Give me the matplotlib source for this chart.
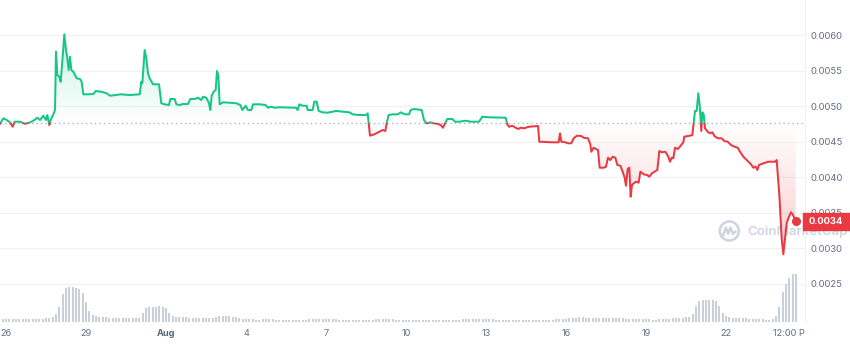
import numpy as np
import pandas as pd
import matplotlib
matplotlib.use("Agg")
import matplotlib.pyplot as plt
import matplotlib.dates as mdates
from matplotlib.patches import Rectangle, Circle
from matplotlib.path import Path
from matplotlib.colors import to_rgb
from matplotlib.transforms import Bbox, TransformedBbox, blended_transform_factory
from matplotlib.lines import Line2D

plt.rcParams['font.family'] = ['Inter', 'DejaVu Sans']

# ---------------- data ----------------
start = pd.Timestamp('2023-07-26 00:00')

# hours after Jul 26 00:00
price_hours = [
    -5.4, -2.4, 0.6, 3.6, 6.0, 7.8, 12.6, 17.1, 21.6, 24.3,
    28.2, 30.6, 33.6, 36.0, 37.2, 39.0, 40.2, 42.6, 44.1, 45.0,
    46.2, 48.0, 49.2, 51.0, 52.5, 54.0, 55.2, 56.4, 57.6, 58.8,
    60.6, 63.6, 66.6, 68.1, 69.6, 74.1, 78.6, 80.7, 86.1, 90.6,
    93.6, 99.6, 102.6, 111.6, 120.3,
    121.8, 122.7, 124.8, 126.3, 127.8, 129.3, 132.3, 137.7, 139.8, 142.8,
    146.7, 147.9, 151.8, 153.3, 156.3, 159.3, 163.8, 165.9, 169.8, 172.8,
    175.8, 177.3, 180.3, 182.7, 183.9, 185.1, 186.9, 188.7, 189.9, 191.1,
    192.3, 195.3, 201.3, 207.3, 210.9, 212.7, 215.7, 217.8, 220.8, 222.3,
    228.3, 233.7, 235.8,
    238.5, 241.5, 246.0, 261.0, 262.5, 264.0, 267.0, 270.6, 271.5, 276.0,
    277.5, 279.6, 281.4, 285.0, 289.5, 297.0, 303.0, 309.0, 312.0, 318.0,
    324.0, 325.5, 326.4, 327.6, 331.5, 336.0, 339.0, 341.4, 342.6, 344.4,
    348.0, 352.5, 355.5,
    356.7, 359.7, 362.7, 364.2, 367.2, 374.1, 376.2, 378.3, 382.2, 385.2,
    388.2, 391.2, 393.3, 395.1, 397.2, 401.7, 404.1, 407.7, 413.7, 418.2,
    425.7, 428.7, 434.7, 449.7, 451.2, 452.7, 455.7, 458.7, 461.1, 463.2,
    466.2, 470.7,
    478.8, 480.0, 491.4, 497.4, 498.6, 499.8, 503.4, 505.8, 508.8, 510.9,
    513.9, 517.8, 519.9, 523.8, 525.9, 526.8, 528.9, 531.0, 532.8, 534.3,
    537.9, 540.0, 541.8, 543.9, 546.0, 548.4, 550.2, 552.9, 555.0, 556.8,
    558.0, 559.5, 561.0, 562.2, 563.4, 564.9, 567.0, 569.4, 570.9, 573.9,
    576.9, 579.0, 581.4, 583.8, 586.2, 588.0, 590.4, 593.4,
    596.1, 597.6, 599.1, 600.6, 602.1, 604.5, 606.6, 609.6, 610.5, 615.6,
    617.7, 618.9, 620.1, 621.6, 623.1, 624.3, 625.2, 625.8, 626.7, 627.9,
    629.1, 631.5, 633.6, 635.7, 638.1, 641.1, 644.1, 646.5, 649.5, 652.5,
    655.5, 658.5, 660.6, 663.6, 667.5, 670.5, 672.6, 674.7, 676.2, 677.7,
    681.6, 686.1, 692.1, 693.6, 695.1, 696.0, 696.9, 698.1, 699.6, 701.1,
    702.6, 704.1, 706.5, 708.0, 710.7,
]

price = [
    0.004750, 0.004827, 0.004803, 0.004770, 0.004708, 0.004779, 0.004779, 0.004750, 0.004770, 0.004789,
    0.004835, 0.004803, 0.004863, 0.004803, 0.004873, 0.004732, 0.004803, 0.004883, 0.004944, 0.005765,
    0.005437, 0.005413, 0.005342, 0.005694, 0.006010, 0.005789, 0.005672, 0.005507, 0.005694, 0.005507,
    0.005483, 0.005390, 0.005380, 0.005342, 0.005165, 0.005165, 0.005169, 0.005211, 0.005201, 0.005179,
    0.005145, 0.005155, 0.005165, 0.005155, 0.005165,
    0.005342, 0.005320, 0.005789, 0.005672, 0.005461, 0.005390, 0.005306, 0.005306, 0.005038, 0.005024,
    0.005014, 0.005099, 0.005099, 0.005024, 0.005014, 0.005028, 0.005028, 0.005099, 0.005099, 0.005117,
    0.005084, 0.005131, 0.005117, 0.005038, 0.004944, 0.005145, 0.005201, 0.005225, 0.005493, 0.005437,
    0.005024, 0.005052, 0.005046, 0.005038, 0.005014, 0.004944, 0.005004, 0.004944, 0.004944, 0.005024,
    0.005024, 0.005014, 0.004976,
    0.004990, 0.004976, 0.004982, 0.004976, 0.004944, 0.005024, 0.005004, 0.005004, 0.004944, 0.004944,
    0.005061, 0.005061, 0.004930, 0.004911, 0.004906, 0.004930, 0.004920, 0.004911, 0.004883, 0.004873,
    0.004873, 0.004897, 0.004756, 0.004582, 0.004601, 0.004638, 0.004662, 0.004648, 0.004756, 0.004873,
    0.004883, 0.004883, 0.004911,
    0.004897, 0.004883, 0.004883, 0.004944, 0.004958, 0.004944, 0.004803, 0.004756, 0.004770, 0.004756,
    0.004750, 0.004732, 0.004694, 0.004756, 0.004817, 0.004817, 0.004779, 0.004779, 0.004793, 0.004779,
    0.004779, 0.004849, 0.004841, 0.004835, 0.004742, 0.004708, 0.004722, 0.004694, 0.004676, 0.004694,
    0.004686, 0.004708,
    0.004718, 0.004497, 0.004489, 0.004489, 0.004616, 0.004497, 0.004489, 0.004475, 0.004475, 0.004545,
    0.004582, 0.004577, 0.004553, 0.004545, 0.004461, 0.004356, 0.004413, 0.004394, 0.004380, 0.004131,
    0.004131, 0.004145, 0.004272, 0.004239, 0.004286, 0.004272, 0.004169, 0.004159, 0.004075, 0.003990,
    0.003877, 0.004113, 0.004131, 0.003723, 0.003887, 0.003911, 0.003934, 0.003920, 0.004075, 0.004038,
    0.004028, 0.004004, 0.004052, 0.004075, 0.004099, 0.004366, 0.004348, 0.004356,
    0.004286, 0.004215, 0.004272, 0.004263, 0.004413, 0.004394, 0.004427, 0.004489, 0.004568, 0.004582,
    0.004592, 0.004756, 0.004930, 0.004930, 0.005179, 0.005014, 0.004779, 0.004648, 0.004911, 0.004883,
    0.004686, 0.004638, 0.004615, 0.004630, 0.004568, 0.004545, 0.004545, 0.004507, 0.004497, 0.004451,
    0.004427, 0.004413, 0.004356, 0.004286, 0.004225, 0.004179, 0.004131, 0.004145, 0.004099, 0.004169,
    0.004193, 0.004215, 0.004215, 0.004239, 0.003934, 0.003746, 0.003489, 0.003137, 0.002911, 0.003137,
    0.003348, 0.003418, 0.003503, 0.003474, 0.003380,
]

base_price = 0.004756          # dotted reference (opening) price

# volume bars, one every 3 hours from Jul 25 18:00 (relative height)
vol_start = pd.Timestamp('2023-07-25 18:00')
vol_step_hours = 3
volume = [
    3.5, 3.5, 3.5, 3.5, 3.5, 3.5, 3.5, 3.5,
    3.5, 3.5, 3.5, 3.5, 3.5, 3.5, 4, 4.5,
    5, 8, 15, 28, 34, 35, 35, 34,
    33, 29, 20, 11, 7, 6, 5.5, 5,
    5, 4.5, 4.5, 4.5, 4.5, 4.5, 4.5, 4,
    4, 4, 4.5, 9, 14, 15, 15, 15.5,
    16, 15.5, 14, 9, 6, 5.5, 5.5, 5,
    5, 4.5, 4.5, 4.5, 4, 4, 4, 4,
    4.5, 5.5, 6, 6, 6, 6, 5.5, 5,
    4, 3.5, 3, 3, 3, 2.5, 2.5, 3,
    3, 3, 3, 2.5, 2.5, 2, 2, 2,
    2, 2, 2.5, 2.5, 2.5, 3, 3, 3,
    3.5, 3.5, 3.5, 3.5, 3, 3, 2.5, 2.5,
    2, 2, 2, 2, 2, 2, 2.5, 2.5,
    2.5, 3, 3, 3, 3.5, 3, 3, 2.5,
    2.5, 2.5, 2, 2, 2, 2, 2, 2,
    2, 2, 2, 2, 2, 2, 2, 2,
    2, 2, 2.5, 3, 3.5, 3.5, 3.5, 3.5,
    3.5, 3.5, 3.5, 3, 3, 2.5, 2.5, 2,
    2, 2, 2, 2, 2, 2, 2, 2,
    2, 2.5, 2.5, 2.5, 2.5, 2.5, 2.5, 3,
    3, 3, 3.5, 4, 4.5, 4.5, 5, 5,
    4.5, 4.5, 4.5, 4, 4, 4.5, 4.5, 4,
    4, 4, 4, 4, 3.5, 3.5, 3.5, 3.5,
    3.5, 3, 3, 3, 2.5, 2.5, 3, 3,
    3.5, 3.5, 4, 4, 4.5, 4.5, 5, 5,
    8, 16, 21, 22, 22, 22, 22, 21,
    16, 9, 6, 5, 4.5, 4.5, 4, 4,
    4, 3.5, 3.5, 3, 3, 3, 2.5, 2.5,
    3, 6, 15, 30, 38, 44, 48, 48,
]

tick_dates = ['2023-07-26 00:00', '2023-07-29 00:00', '2023-08-01 00:00', '2023-08-04 00:00',
              '2023-08-07 00:00', '2023-08-10 00:00', '2023-08-13 00:00', '2023-08-16 00:00',
              '2023-08-19 00:00', '2023-08-22 00:00', '2023-08-24 12:00']
tick_labels = ['26', '29', 'Aug', '4', '7', '10', '13', '16', '19', '22', '12:00 PM']
price_ticks = [0.0025, 0.0030, 0.0035, 0.0040, 0.0045, 0.0050, 0.0055, 0.0060]

# ---------------- style ----------------
GREEN = '#16c784'
RED = '#ea3943'
GRID = '#eff2f5'
LABEL = '#616e85'
VOLC = '#c9d0dc'
WM = '#cfd5e0'

W, H = 850, 345
fig = plt.figure(figsize=(W / 100, H / 100), dpi=100)
rect = [0, 23 / H, 805 / W, 322 / H]
ax = fig.add_axes(rect, zorder=1)
axv = fig.add_axes(rect, zorder=2, sharex=ax)
axv.patch.set_alpha(0)

t = mdates.date2num((start + pd.to_timedelta(price_hours, unit='h')).values)
p = np.array(price)
x0 = mdates.date2num(np.datetime64(start - pd.Timedelta(hours=5.4)))
x1 = mdates.date2num(np.datetime64(start + pd.Timedelta(hours=719.1)))
ylo, yhi = 0.001958, 0.006493

# gradient fills clipped to the area between line and reference price
fb = ax.fill_between(t, p, base_price, facecolor='none', edgecolor='none')
clip_path = Path.make_compound_path(*fb.get_paths())
fb.remove()

n = 256
g = np.zeros((n, 1, 4))
g[..., :3] = to_rgb(GREEN)
g[:, 0, 3] = np.linspace(0.0, 0.24, n)
im_g = ax.imshow(g, extent=[x0, x1, base_price, p.max()], origin='lower',
                 aspect='auto', interpolation='bilinear', zorder=1.2)
im_g.set_clip_path(clip_path, ax.transData)

r = np.zeros((n, 1, 4))
r[..., :3] = to_rgb(RED)
r[:, 0, 3] = np.linspace(0.26, 0.0, n)
im_r = ax.imshow(r, extent=[x0, x1, p.min(), base_price], origin='lower',
                 aspect='auto', interpolation='bilinear', zorder=1.2)
im_r.set_clip_path(clip_path, ax.transData)

# dotted reference line
ax.axhline(base_price, color='#a3abbd', lw=0.9, ls=(0, (1, 2.6)), zorder=1.3)

# price line: green above reference, red below
lg, = ax.plot(t, p, color=GREEN, lw=1.45, solid_joinstyle='round', zorder=2)
lg.set_clip_path(Rectangle((x0, base_price), x1 - x0, 1.0, transform=ax.transData))
lr, = ax.plot(t, p, color=RED, lw=1.45, solid_joinstyle='round', zorder=2)
lr.set_clip_path(Rectangle((x0, 0.0), x1 - x0, base_price, transform=ax.transData))
ax.plot(t[-1], p[-1], 'o', color=RED, ms=5.5, zorder=3, clip_on=False)

ax.set_xlim(x0, x1)
ax.set_ylim(ylo, yhi)

# axes styling
ax.set_yticks(price_ticks, [f'{v:.4f}' for v in price_ticks])
ax.yaxis.tick_right()
ax.tick_params(axis='y', length=0, pad=4.3, labelsize=6.8, labelcolor=LABEL)
tick_nums = mdates.date2num(pd.to_datetime(tick_dates, format='%Y-%m-%d %H:%M').values)
ax.set_xticks(tick_nums, tick_labels)
ax.tick_params(axis='x', length=0, pad=5.4, labelsize=6.6, labelcolor=LABEL)
ax.grid(axis='y', color=GRID, lw=0.8)
ax.set_axisbelow(True)
for s in ['top', 'left', 'bottom']:
    ax.spines[s].set_visible(False)
ax.spines['right'].set_color(GRID)
ax.spines['right'].set_linewidth(0.8)

xt = ax.xaxis.get_major_ticks()
xt[2].label1.set_fontweight('bold')
xt[2].label1.set_color('#58667e')
clipbox = TransformedBbox(Bbox([[0, 0], [805 / W, 1]]), fig.transFigure)
xt[-1].label1.set_clip_box(clipbox)
xt[-1].label1.set_clip_on(True)

# volume bars
vt = mdates.date2num((vol_start + pd.to_timedelta(np.arange(len(volume)) * vol_step_hours, unit='h')).values)
axv.bar(vt, volume, width=1.8 / 24, color=VOLC, linewidth=0, align='center')
axv.set_ylim(0, 322)
axv.set_xlim(x0, x1)
axv.axis('off')

# watermark
inch = fig.dpi_scale_trans
cx, cy = 7.293, 1.14
ax.add_patch(Circle((cx, cy), 0.095, transform=inch, fill=False, ec=WM, lw=1.9,
                    zorder=1.4, clip_on=False))
wave_x = [-0.062, -0.035, -0.012, 0.012, 0.037, 0.062]
wave_y = [-0.045, 0.035, -0.028, 0.035, -0.030, -0.005]
ax.add_line(Line2D([cx + v for v in wave_x], [cy + v for v in wave_y], transform=inch,
                   color=WM, lw=1.8, solid_joinstyle='round', solid_capstyle='round',
                   zorder=1.4, clip_on=False))
ax.text(7.47, 1.13, 'CoinMarketCap', transform=inch, fontsize=9.6, fontweight='semibold',
        color=WM, va='center', ha='left', zorder=1.4, clip_on=False)

# last price tag
bt = blended_transform_factory(fig.transFigure, ax.transData)
px_h = (yhi - ylo) / 322
ax.add_patch(Rectangle((803 / W, p[-1] - 8.5 * px_h), 60 / W, 17 * px_h, transform=bt,
                       color=RED, zorder=10, clip_on=False))
ax.text(809 / W, p[-1], f'{p[-1]:.4f}', transform=bt, color='white', fontsize=6.8,
        fontweight='bold', va='center', ha='left', zorder=11, clip_on=False)

fig.savefig('out.png', dpi=100)
